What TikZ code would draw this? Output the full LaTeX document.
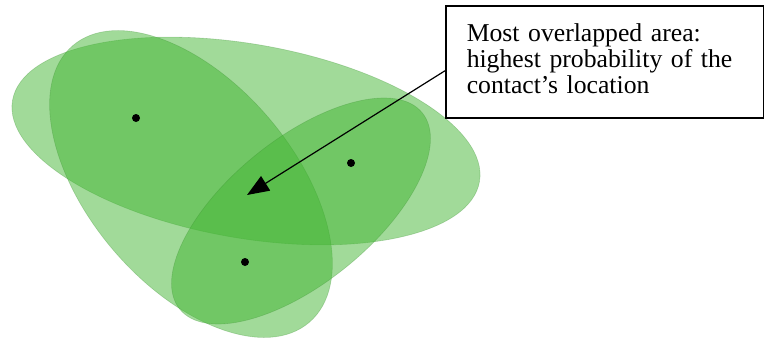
\documentclass[tikz,border=0pt]{standalone}
\usepackage{fontspec}
\setmainfont{Liberation Serif}
\definecolor{verdezona}{RGB}{67,181,51}
\definecolor{verdeborde}{RGB}{55,140,45}
\usetikzlibrary{positioning, arrows.meta}

\begin{document}
\begin{tikzpicture}[x=1pt, y=-1pt,
    zona/.style={fill=verdezona, fill opacity=0.5, draw=verdeborde, draw opacity=0.3, line width=0.6pt},
    nota/.style={draw, line width=1.5pt, anchor=north west, align=left,
      text width=276pt, minimum height=112pt, inner xsep=21pt, inner ysep=0pt,
      font=\fontsize{25.7}{25.6}\selectfont}]
  \useasboundingbox (0,0) rectangle (764,338);
  % three overlapping areas
  \path[zona, rotate around={-9.9:(246,141)}] (246,141) ellipse (237 and 97);
  \path[zona, rotate around={-49.5:(191,184)}] (191,184) ellipse (182 and 102);
  \path[zona, rotate around={39:(301,211)}] (301,211) ellipse (156 and 72);
  \fill (136,118) circle (4pt);
  \fill (351,163) circle (4pt);
  \fill (245,262) circle (4pt);
  % note and arrow
  \node[nota] (nota) at (445,5) {Most overlapped area:\\highest probability of the\\contact's location\rule[-6.5pt]{0pt}{0pt}};
  \coordinate (centro) at (247,195);
  \draw[-{Triangle[length=22pt,width=17pt]}, line width=1.2pt] ([yshift=-9pt]nota.west) -- (centro);
\end{tikzpicture}
\end{document}
